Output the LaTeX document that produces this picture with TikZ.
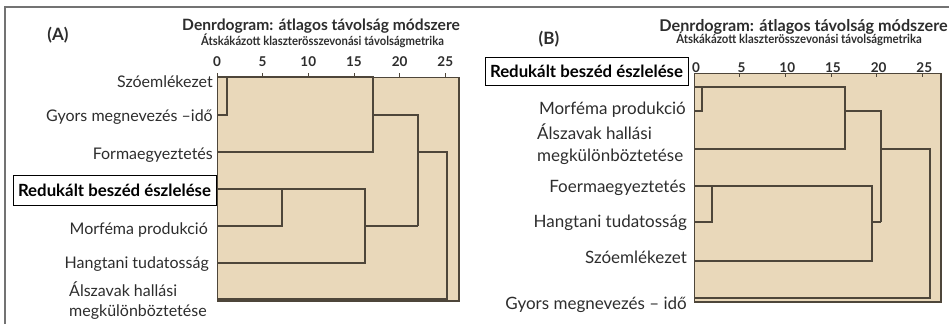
\documentclass[tikz,border=0pt]{standalone}
\usepackage{fontspec}
\setmainfont{Lato}
\definecolor{tanfill}{RGB}{233,216,186}
\definecolor{dline}{RGB}{78,70,58}
\definecolor{txt}{RGB}{45,45,45}
\definecolor{framec}{RGB}{115,115,115}
\begin{document}
\begin{tikzpicture}[x=1pt,y=-1pt,
  labA/.style={anchor=base east,inner sep=0,text=txt,font=\fontsize{16}{18}\selectfont},
  labB/.style={anchor=base east,inner sep=0,text=txt,font=\fontsize{17}{19}\selectfont},
  labLA/.style={anchor=base west,inner sep=0,text=txt,font=\fontsize{16}{18}\selectfont},
  labLB/.style={anchor=base west,inner sep=0,text=txt,font=\fontsize{17}{19}\selectfont},
  redbox/.style={draw=black,line width=0.9pt,fill=white,inner sep=0,text=black,font=\fontsize{16.8}{18}\selectfont\bfseries},
  titlestyle/.style={anchor=base,inner sep=0,text=txt,font=\fontsize{15.6}{17}\selectfont\bfseries},
  subtitlestyle/.style={anchor=base,inner sep=0,text=txt,font=\fontsize{12.5}{13}\selectfont\bfseries},
  numstyle/.style={anchor=base,inner sep=0,text=txt,font=\fontsize{13.5}{14}\selectfont\bfseries},
  panelstyle/.style={inner sep=0,text=txt,font=\fontsize{17}{18}\selectfont\bfseries},
  dendro/.style={draw=dline,line width=1.1pt},
  tickstyle/.style={draw=dline,line width=0.8pt}]
\useasboundingbox (0,0) rectangle (949,324);
% outer frame
\coordinate (f1) at (5,324);
\coordinate (f2) at (5,7);
\coordinate (f3) at (949,7);
\draw[framec,line width=1.4pt] (f1) -- (f2) -- (f3);

% ================= Panel A =================
\node[panelstyle] (pA) at (58,35) {(A)};
\node[titlestyle] (tA) at (321,30.5) {Denrdogram: átlagos távolság módszere};
\node[subtitlestyle] (sA) at (322.5,45) {\scalebox{0.9}[1]{Átskákázott klaszterösszevonási távolságmetrika}};
\fill[tanfill] (217,77) rectangle (459,301);
\draw[dline,line width=1pt] (217,77) rectangle (459,301);
\draw[dline,line width=1.6pt] (217,301) -- (459,301) -- (459,77);
\foreach \k/\v in {0/0,1/5,2/10,3/15,4/20,5/25}{
  \node[numstyle] (nA\k) at (217+45.65*\k,66.5) {\v};
  \draw[tickstyle] (217+45.65*\k,77) -- (217+45.65*\k,73);
}
% leaves A
\coordinate (a1) at (217,77);
\coordinate (a2) at (217,115);
\coordinate (a3) at (217,152);
\coordinate (a4) at (217,189);
\coordinate (a5) at (217,226);
\coordinate (a6) at (217,263);
\coordinate (a7) at (217,299);
\draw[dendro] (a1) -- (227,77) -- (227,115) -- (a2);
\draw[dendro] (227,77) -- (373,77) -- (373,152) -- (a3);
\draw[dendro] (373,115) -- (418,115) -- (418,226);
\draw[dendro] (a4) -- (282,189) -- (282,226) -- (a5);
\draw[dendro] (282,189) -- (365,189) -- (365,263) -- (a6);
\draw[dendro] (365,226) -- (418,226);
\draw[dendro] (418,152) -- (447,152) -- (447,299) -- (a7);
% labels A
\node[labA] (la1) at (213,87) {Szóemlékezet};
\node[labA] (la2) at (213,121.5) {Gyors megnevezés –idő};
\node[labA] (la3) at (213,159) {Formaegyeztetés};
\node[redbox,minimum width=203pt,minimum height=30pt] (la4) at (114.5,190) {Redukált beszéd észlelése};
\node[labA] (la5) at (208,234) {Morféma produkció};
\node[labA] (la6) at (209,268) {Hangtani tudatosság};
\node[labLA] (la7) at (69,296) {Álszavak hallási};
\node[labLA] (la7b) at (69,316) {megkülönböztetése};

% ================= Panel B =================
\node[panelstyle] (pB) at (549,39) {(B)};
\node[titlestyle,font=\fontsize{16.2}{17}\selectfont\bfseries] (tB) at (803.5,31) {Denrdogram: átlagos távolság módszere};
\node[subtitlestyle] (sB) at (799,43.3) {\scalebox{0.91}[1]{Átskákázott klaszterösszevonási távolságmetrika}};
\fill[tanfill] (694,73) rectangle (941,302);
\draw[dline,line width=1pt] (694,73) rectangle (941,302);
\draw[dline,line width=1.6pt] (694,302) -- (941,302) -- (941,73);
\foreach \k/\v in {0/0,1/5,2/10,3/15,4/20,5/25}{
  \node[numstyle] (nB\k) at (696+45.65*\k,72) {\v};
  \draw[tickstyle] (694+45.65*\k,73) -- (694+45.65*\k,77);
}
\coordinate (b1) at (694,87);
\coordinate (b2) at (694,111);
\coordinate (b3) at (694,149);
\coordinate (b4) at (694,186);
\coordinate (b5) at (694,222);
\coordinate (b6) at (694,261);
\coordinate (b7) at (694,298);
\draw[dendro] (b1) -- (702,87) -- (702,111) -- (b2);
\draw[dendro] (702,87) -- (845,87) -- (845,149) -- (b3);
\draw[dendro] (845,111) -- (881,111) -- (881,222);
\draw[dendro] (b4) -- (712,186) -- (712,222) -- (b5);
\draw[dendro] (712,186) -- (872,186) -- (872,261) -- (b6);
\draw[dendro] (872,222) -- (881,222);
\draw[dendro] (881,149) -- (930,149) -- (930,298) -- (b7);
% labels B
\node[redbox,minimum width=203pt,minimum height=28pt] (lb1) at (586.5,71) {Redukált beszéd észlelése};
\node[labB] (lb2) at (686,114) {Morféma produkció};
\node[labLB] (lb3) at (537,139) {Álszavak hallási};
\node[labLB] (lb3b) at (537,161) {megkülönböztetése};
\node[labB] (lb4) at (686,192.5) {Foermaegyeztetés};
\node[labB] (lb5) at (687,227) {Hangtani tudatosság};
\node[labB] (lb6) at (687,263) {Szóemlékezet};
\node[labB] (lb7) at (687,309) {Gyors megnevezés – idő};
\end{tikzpicture}
\end{document}
